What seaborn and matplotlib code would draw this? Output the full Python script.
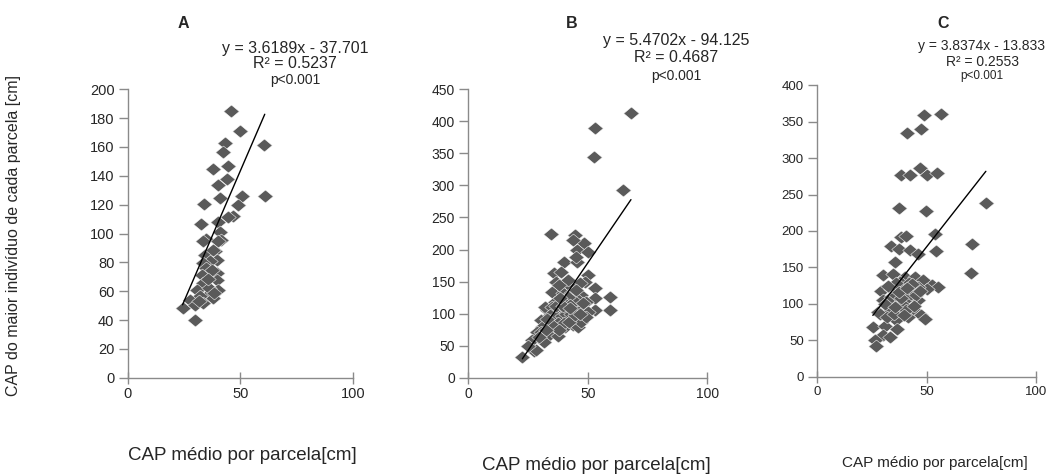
import numpy as np
import pandas as pd
import matplotlib
matplotlib.use("Agg")
import matplotlib.pyplot as plt
from matplotlib.path import Path
import seaborn as sns

# CAP médio por parcela (x) vs CAP do maior indivíduo (y), three areas
a_x = [46.0, 49.7, 60.6, 43.3, 42.3, 37.8, 44.8, 44.2, 40.3, 41.2, 50.8, 60.9,
       33.8, 49.2, 46.7, 44.5, 32.6, 40.3, 41.2, 34.8, 41.5, 38.8, 34.4, 39.7,
       36.7, 33.6, 34.8, 37.0, 39.6, 32.9, 39.6, 33.6, 40.3, 30.7, 35.8, 38.1,
       32.1, 27.7, 24.4, 29.9, 33.6, 29.9, 33.6, 40.2, 38.1, 36.2, 37.5, 35.5,
       31.5, 38.5]
a_y = [185.0, 171.4, 161.2, 162.6, 156.4, 144.6, 146.9, 137.7, 133.6, 124.3, 126.2, 125.7,
       120.6, 120.0, 111.9, 111.4, 106.6, 107.7, 100.8, 96.2, 95.3, 87.6, 85.3, 81.9,
       80.7, 79.5, 76.1, 72.7, 72.6, 71.4, 68.0, 65.7, 61.0, 61.0, 57.6, 55.3,
       56.4, 54.1, 48.4, 50.7, 51.8, 40.2, 94.5, 94.5, 88.8, 62.0, 75.0, 68.5,
       53.0, 58.5]

b_x = [68.0, 52.8, 52.5, 64.8, 34.5, 44.4, 48.4, 43.8, 45.3, 50.0, 39.8, 45.3,
       45.0, 36.0, 38.7, 36.6, 50.0, 48.6, 46.5, 42.2, 52.8, 59.1, 59.1, 52.8,
       52.8, 35.2, 39.4, 42.9, 47.2, 49.3, 36.1, 33.1, 32.0, 37.3, 40.8, 44.4,
       47.2, 50.0, 41.6, 45.8, 38.7, 34.5, 30.3, 31.0, 36.1, 40.4, 43.9, 28.9,
       33.8, 37.3, 26.8, 31.8, 27.5, 22.6, 28.2, 46.0, 43.7, 41.5, 39.4, 35.2,
       45.8, 40.1, 47.2, 49.3, 45.1, 41.5, 38.0, 25.0, 34.0, 42.5,
       36.5, 39.0, 41.0, 43.0, 37.5, 40.0, 42.0, 44.5, 35.0, 38.0, 33.0, 36.5,
       39.5, 30.5, 32.5, 29.5, 42.5, 46.5, 48.0, 38.5]
b_y = [413.6, 390.2, 343.9, 292.9, 224.2, 222.6, 210.0, 214.8, 199.2, 196.6, 181.0, 181.0,
       188.0, 162.9, 165.4, 149.8, 160.2, 149.8, 147.3, 144.6, 139.5, 126.4, 105.6, 105.6,
       123.9, 134.2, 131.7, 131.7, 129.0, 118.6, 118.6, 105.6, 110.8, 103.0, 105.6, 105.6,
       110.8, 103.0, 92.7, 92.7, 90.0, 90.0, 90.0, 79.6, 77.0, 79.6, 82.2, 71.8,
       66.6, 65.0, 58.8, 56.2, 42.0, 32.8, 43.2, 121.0, 121.2, 126.4, 118.6, 110.8,
       79.5, 105.6, 87.4, 95.1, 136.8, 152.4, 144.6, 50.0, 98.0, 114.0,
       97.0, 96.0, 99.0, 100.0, 85.0, 86.0, 87.0, 98.0, 83.0, 75.0, 92.0, 112.0,
       112.0, 72.0, 74.0, 64.0, 108.0, 99.0, 116.0, 125.0]

c_x = [48.9, 56.6, 47.7, 41.3, 46.9, 38.5, 42.4, 50.0, 54.9, 37.3, 49.7, 77.1,
       53.8, 38.5, 40.8, 70.6, 33.9, 54.4, 37.6, 42.3, 46.2, 35.5, 70.3, 30.1,
       34.7, 40.1, 44.7, 48.5, 52.3, 55.3, 50.0, 29.4, 34.0, 38.5, 41.6, 46.2,
       34.7, 30.1, 27.8, 33.2, 37.6, 43.9, 47.7, 49.3, 41.6, 25.5, 30.9, 36.2,
       30.1, 26.3, 27.0, 33.2, 36.5, 40.0, 43.1, 46.2, 33.9, 30.9, 28.6, 38.0,
       42.0, 44.0, 36.0, 39.0, 32.0, 35.0,
       36.0, 38.5, 40.5, 43.5, 45.0, 32.5, 35.5, 37.5, 41.0, 44.5, 47.0, 39.5]
c_y = [359.3, 361.1, 339.6, 335.0, 286.4, 276.4, 276.4, 276.4, 279.6, 231.9, 226.9, 238.8,
       196.2, 191.6, 193.8, 182.4, 179.2, 172.5, 175.5, 173.2, 168.6, 157.1, 142.1, 138.9,
       141.2, 136.6, 136.6, 132.0, 125.1, 123.0, 120.6, 118.2, 120.6, 123.0, 113.7, 104.5,
       102.1, 104.5, 88.4, 90.7, 95.3, 93.0, 83.9, 79.2, 81.5, 67.8, 70.1, 77.0,
       56.4, 49.5, 42.6, 54.1, 65.0, 104.5, 113.7, 122.8, 109.1, 99.9, 86.2, 130.0,
       128.0, 118.0, 112.0, 100.0, 82.0, 86.0,
       128.0, 108.0, 92.0, 127.0, 112.0, 125.0, 95.0, 116.0, 122.0, 97.0, 117.0, 84.0]

# Fitted regressions as reported on each panel
slopes = [3.6189, 5.4702, 3.8374]
intercepts = [-37.701, -94.125, -13.833]
r2_values = ["0.5237", "0.4687", "0.2553"]
panel_letters = ["A", "B", "C"]
y_maxima = [200, 450, 400]
y_steps = [20, 50, 50]
x_ticks = [0, 50, 100]

sns.set_theme(style="white")
plt.rcParams["font.family"] = ["Liberation Sans", "DejaVu Sans"]

W, H = 1059, 476
fig = plt.figure(figsize=(W / 100, H / 100), dpi=100)


def frac_box(left, right, top, bottom):
    return [left / W, 1 - bottom / H, (right - left) / W, (bottom - top) / H]


boxes = [frac_box(127.6, 352.8, 89.3, 377.7),
         frac_box(468.3, 707.5, 89.3, 377.7),
         frac_box(817.0, 1036.0, 85.5, 376.5)]
tick_sizes = [10.5, 10.0, 9.5]

# Slightly wide diamond marker
diamond = Path([(-1.0, 0.0), (0.0, 0.83), (1.0, 0.0), (0.0, -0.83), (-1.0, 0.0)],
               [Path.MOVETO, Path.LINETO, Path.LINETO, Path.LINETO, Path.CLOSEPOLY])

datasets = [(a_x, a_y), (b_x, b_y), (c_x, c_y)]
spine_color = "#8a8a8a"

for i, (xs, ys) in enumerate(datasets):
    ax = fig.add_axes(boxes[i])
    df = pd.DataFrame({"cap_medio": xs, "cap_maior": ys})
    sns.scatterplot(data=df, x="cap_medio", y="cap_maior", ax=ax, marker=diamond,
                    s=125, color="#5a5a5a", edgecolor="white", linewidth=0.35, zorder=2)
    x0, x1 = min(xs), max(xs)
    lx = np.array([x0, x1])
    ax.plot(lx, slopes[i] * lx + intercepts[i], color="black", lw=1.0, zorder=3)

    ax.set_xlim(0, 100)
    ax.set_ylim(0, y_maxima[i])
    ax.set_xticks(x_ticks)
    ax.set_yticks(np.arange(0, y_maxima[i] + 1, y_steps[i]))
    ax.set_xlabel("")
    ax.set_ylabel("")
    for side in ["top", "right"]:
        ax.spines[side].set_visible(False)
    for side in ["left", "bottom"]:
        ax.spines[side].set_color(spine_color)
        ax.spines[side].set_linewidth(1.0)
    ax.tick_params(axis="y", direction="out", length=6.5, width=1, color=spine_color,
                   labelsize=tick_sizes[i], pad=3, left=True)
    ax.tick_params(axis="x", direction="inout", length=8, width=1, color=spine_color,
                   labelsize=tick_sizes[i], pad=3, bottom=True)

# Panel letters
for letter, (px, py) in zip(panel_letters, [(183, 24), (572, 24), (943, 23)]):
    fig.text(px / W, 1 - py / H, letter, ha="center", va="center",
             fontsize=11.5, fontweight="bold")

# Regression annotations
eq_pos = [(295, [48, 64, 80]), (676, [41, 58, 76]), (982, [46, 61.5, 76.5])]
eq_sizes = [11.5, 11.5, 10.0]
for i, (cx, rows) in enumerate(eq_pos):
    sign = "-" if intercepts[i] < 0 else "+"
    lines = [f"y = {slopes[i]:.4f}x {sign} {abs(intercepts[i]):.3f}",
             f"R² = {r2_values[i]}",
             "p<0.001"]
    for txt, ry in zip(lines, rows):
        fig.text(cx / W, 1 - ry / H, txt, ha="center", va="center",
                 fontsize=eq_sizes[i] if txt != "p<0.001" else eq_sizes[i] - 1.5)

# Axis titles
fig.text(14 / W, 1 - 235 / H, "CAP do maior indivíduo de cada parcela [cm]",
         rotation=90, ha="center", va="center", fontsize=11.5)
for (cx, cy, fs) in [(242, 456, 13.5), (596, 466, 13.5), (935, 463, 11)]:
    fig.text(cx / W, 1 - cy / H, "CAP médio por parcela[cm]", ha="center",
             va="center", fontsize=fs)

fig.savefig("out.png", dpi=100, facecolor="white")
